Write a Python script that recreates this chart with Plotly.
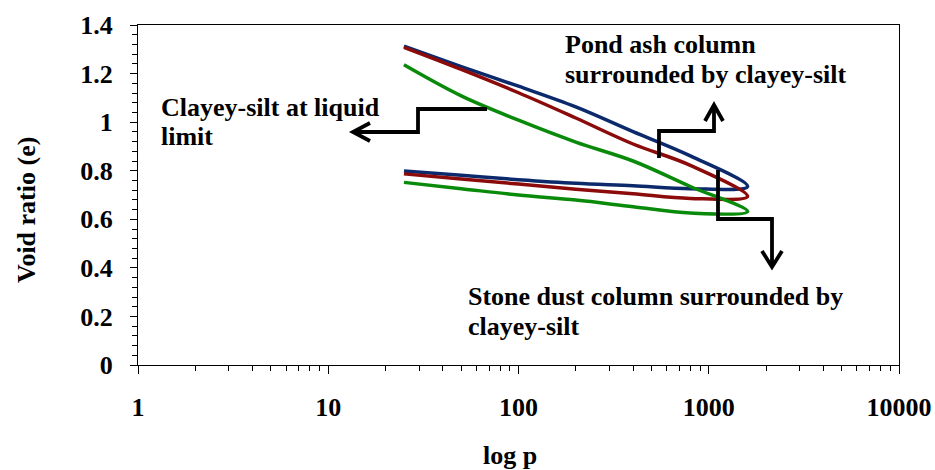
import plotly.graph_objects as go

# ---------------- data ----------------
p_load = [25, 50, 100, 200, 400, 800, 1600]
p_unload = [800, 400, 200, 100, 50, 25]

pond_load = [1.313, 1.229, 1.148, 1.063, 0.961, 0.861, 0.735]
pond_unload = [0.726, 0.738, 0.748, 0.763, 0.781, 0.799]

stone_load = [1.308, 1.217, 1.121, 1.017, 0.910, 0.822, 0.694]
stone_unload = [0.686, 0.705, 0.724, 0.745, 0.766, 0.787]

clay_load = [1.236, 1.108, 1.008, 0.918, 0.840, 0.735, 0.632]
clay_unload = [0.626, 0.652, 0.679, 0.700, 0.726, 0.752]

x_tickvals = [1, 10, 100, 1000, 10000]
x_ticktext = ["1", "10", "100", "1000", "10000"]
y_tickvals = [0, 0.2, 0.4, 0.6, 0.8, 1.0, 1.2, 1.4]
y_ticktext = ["0", "0.2", "0.4", "0.6", "0.8", "1", "1.2", "1.4"]

series = [
    ("Pond ash column surrounded by clayey-silt", pond_load, pond_unload, "#0c2a6b"),
    ("Stone dust column surrounded by clayey-silt", stone_load, stone_unload, "#8b0a0a"),
    ("Clayey-silt at liquid limit", clay_load, clay_unload, "#0a8a0a"),
]

# ---------------- layout geometry ----------------
W, H = 935, 470
ML, MR, MT, MB = 138, 36, 25, 105
PW, PH = W - ML - MR, H - MT - MB

def px(xp, yp):
    return (xp - ML) / PW, (H - MB - yp) / PH

FONT = "Times New Roman, Liberation Serif, DejaVu Serif, serif"
FS = 26

fig = go.Figure()
for name, ld, ul, col in series:
    fig.add_trace(go.Scatter(
        x=p_load + p_unload, y=ld + ul, mode="lines", name=name,
        line=dict(color=col, width=3.5, shape="spline", smoothing=1.0),
        showlegend=False, hoverinfo="skip"))

minor_x = [m * 10 ** k for k in range(4) for m in range(2, 10)]

fig.update_xaxes(
    type="log", range=[0, 4], tickvals=x_tickvals, ticktext=x_ticktext,
    showline=True, linecolor="black", linewidth=1.3, mirror=True,
    ticks="outside", ticklen=8, tickwidth=1.3, tickcolor="black",
    minor=dict(tickvals=minor_x, ticks="outside", ticklen=5, tickwidth=1.3, tickcolor="black", showgrid=False),
    showgrid=False, zeroline=False, automargin=False,
    tickfont=dict(family=FONT, size=FS, color="black", weight="bold"),
    ticklabelstandoff=11)
fig.update_yaxes(
    range=[0, 1.4], tickvals=y_tickvals, ticktext=y_ticktext,
    showline=True, linecolor="black", linewidth=1.3, mirror=True,
    ticks="outside", ticklen=7, tickwidth=1.3, tickcolor="black",
    minor=dict(dtick=0.04, ticks="outside", ticklen=5, tickwidth=1.3, tickcolor="black", showgrid=False),
    showgrid=False, zeroline=False, automargin=False,
    tickfont=dict(family=FONT, size=FS, color="black", weight="bold"),
    ticklabelstandoff=12)

anns = []
def text_at(t, xp, yp, xanchor="left", angle=0, size=FS):
    x, y = px(xp, yp)
    anns.append(dict(text="<b>" + t + "</b>", x=x, y=y, xref="paper", yref="paper", xanchor=xanchor,
                     yanchor="middle", showarrow=False, textangle=angle,
                     font=dict(family=FONT, size=size, color="black")))

text_at("Clayey-silt at liquid", 159, 107)
text_at("limit", 159, 136)
text_at("Pond ash column", 563, 44)
text_at("surrounded by clayey-silt", 563, 74)
text_at("Stone dust column surrounded by", 466, 296)
text_at("clayey-silt", 466, 326)
text_at("Void ratio (e)", 26, 210, xanchor="center", angle=-90)
text_at("log p", 510, 455, xanchor="center")

shapes = []
def poly(points):
    d = ""
    for i, (a, b) in enumerate(points):
        x, y = px(a, b)
        d += ("M" if i == 0 else "L") + f"{x:.5f},{y:.5f} "
    shapes.append(dict(type="path", path=d.strip(), xref="paper", yref="paper",
                       line=dict(color="black", width=3.8)))

poly([(487, 109), (418, 109), (418, 132), (353, 132)])
poly([(370, 123), (353, 132), (370, 141)])
poly([(659, 158), (659, 131), (714, 131), (714, 105)])
poly([(705, 121), (714, 105), (723, 121)])
poly([(718, 170), (718, 219), (772, 219), (772, 267)])
poly([(762, 251), (772, 267), (782, 251)])

fig.update_layout(
    width=W, height=H, margin=dict(l=ML, r=MR, t=MT, b=MB, autoexpand=False),
    paper_bgcolor="white", plot_bgcolor="white",
    annotations=anns, shapes=shapes)

fig.write_html("out.html")
